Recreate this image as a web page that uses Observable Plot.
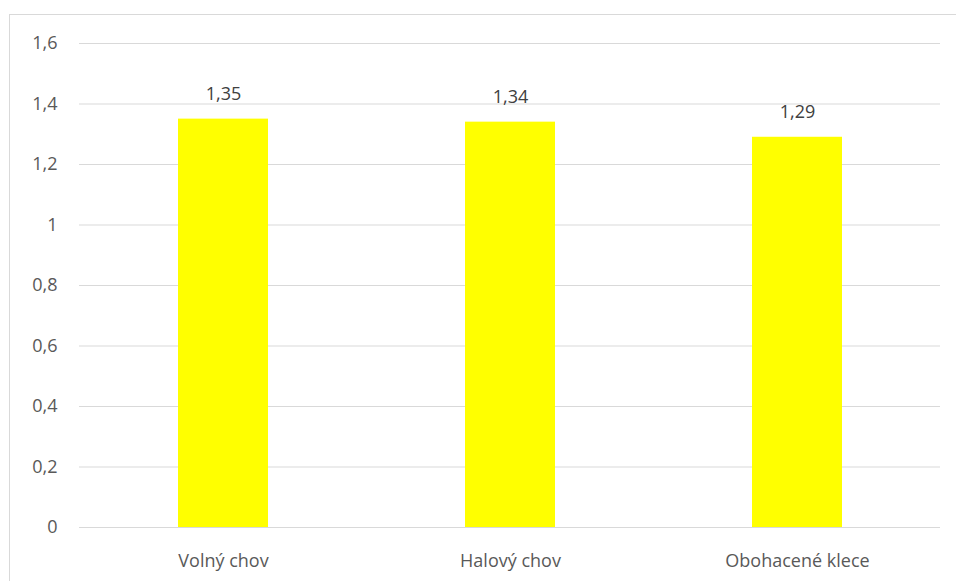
<!DOCTYPE html>
<html>
<head>
<meta charset="utf-8">
<script src="https://cdn.jsdelivr.net/npm/d3@7"></script>
<script src="https://cdn.jsdelivr.net/npm/@observablehq/plot@0.6"></script>
<style>
  html, body { margin: 0; padding: 0; background: #fff; }
  #wrap { position: relative; width: 956px; height: 581px; overflow: hidden; }
  #frame { position: absolute; left: 9px; top: 14px; width: 1000px; height: 1000px;
           border-left: 1px solid #d9d9d9; border-top: 1px solid #d9d9d9; box-sizing: border-box; }
  #chart { position: absolute; left: 0; top: 0; }
</style>
</head>
<body>
<div id="wrap"><div id="frame"></div><div id="chart"></div></div>
<script>
const categories = ["Volný chov", "Halový chov", "Obohacené klece"];
const values = [1.35, 1.34, 1.29];
const yTicks = [0, 0.2, 0.4, 0.6, 0.8, 1, 1.2, 1.4, 1.6];

const data = categories.map((c, i) => ({category: c, value: values[i]}));
const fmt = d => String(d).replace(".", ",");

const chart = Plot.plot({
  width: 956,
  height: 581,
  marginLeft: 79,
  marginRight: 16,
  marginTop: 43,
  marginBottom: 54,
  style: {fontFamily: "'Open Sans', sans-serif", fontSize: "18px", color: "#595959", background: "transparent"},
  x: {domain: categories, paddingInner: 0.687, paddingOuter: 0.3435, label: null},
  y: {domain: [0, 1.6], ticks: yTicks, tickFormat: fmt, label: null},
  marks: [
    Plot.gridY(yTicks, {stroke: "#d9d9d9", strokeOpacity: 1, strokeWidth: 1}),
    Plot.barY(data, {x: "category", y: "value", fill: "#ffff00"}),
    Plot.text(data, {x: "category", y: "value", text: d => fmt(d.value), dy: -25, fill: "#404040", fontSize: 18}),
    Plot.axisX({tickSize: 0, tickPadding: 27, fontSize: 18, fill: "#595959"}),
    Plot.axisY({ticks: yTicks, tickFormat: fmt, tickSize: 0, tickPadding: 22, fontSize: 18, fill: "#595959"})
  ]
});
document.getElementById("chart").appendChild(chart);
</script>
</body>
</html>
